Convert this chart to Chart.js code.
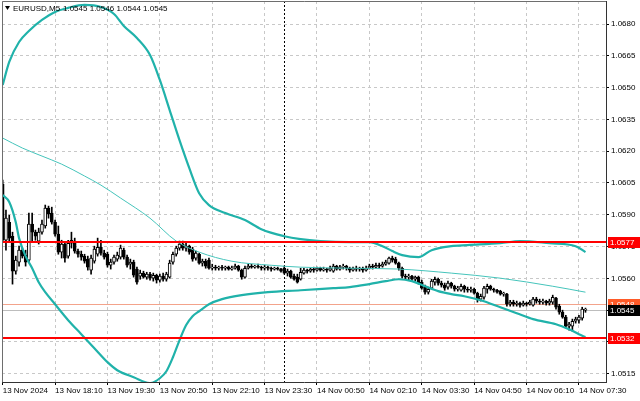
<!DOCTYPE html>
<html>
<head>
<meta charset="utf-8">
<script src="https://cdn.jsdelivr.net/npm/chart.js@4.4.1/dist/chart.umd.min.js"></script>
<style>
  html, body { margin: 0; padding: 0; background: #fff; }
  canvas { display: block; }
</style>
</head>
<body>
<canvas id="chart" width="640" height="401"></canvas>
<script>
// EURUSD M5, 13 Nov 16:50 .. 14 Nov 07:40 (one entry per bar)
const opens = [
  1.06045, 1.05780, 1.05865, 1.05799, 1.05634, 1.05677, 1.05733, 1.05710, 1.05686, 1.05856,
  1.05818, 1.05776, 1.05818, 1.05847, 1.05932, 1.05908, 1.05865, 1.05809, 1.05724, 1.05762,
  1.05705, 1.05766, 1.05776, 1.05729, 1.05714, 1.05705, 1.05691, 1.05639, 1.05681, 1.05714,
  1.05747, 1.05719, 1.05714, 1.05662, 1.05677, 1.05691, 1.05700, 1.05733, 1.05700, 1.05667,
  1.05677, 1.05644, 1.05611, 1.05625, 1.05606, 1.05620, 1.05601, 1.05615, 1.05592, 1.05611,
  1.05596, 1.05606, 1.05677, 1.05714, 1.05743, 1.05762, 1.05743, 1.05752, 1.05738, 1.05696,
  1.05714, 1.05672, 1.05681, 1.05686, 1.05648, 1.05653, 1.05648, 1.05653, 1.05648, 1.05653,
  1.05644, 1.05648, 1.05658, 1.05639, 1.05606, 1.05648, 1.05658, 1.05653, 1.05658, 1.05653,
  1.05648, 1.05653, 1.05648, 1.05644, 1.05648, 1.05644, 1.05648, 1.05625, 1.05634, 1.05611,
  1.05606, 1.05596, 1.05625, 1.05639, 1.05634, 1.05644, 1.05639, 1.05648, 1.05639, 1.05644,
  1.05639, 1.05634, 1.05658, 1.05644, 1.05653, 1.05658, 1.05648, 1.05639, 1.05648, 1.05644,
  1.05648, 1.05639, 1.05648, 1.05658, 1.05653, 1.05662, 1.05658, 1.05667, 1.05672, 1.05696,
  1.05691, 1.05672, 1.05648, 1.05611, 1.05606, 1.05611, 1.05596, 1.05606, 1.05582, 1.05559,
  1.05535, 1.05554, 1.05582, 1.05596, 1.05578, 1.05568, 1.05559, 1.05578, 1.05563, 1.05549,
  1.05544, 1.05563, 1.05549, 1.05544, 1.05549, 1.05530, 1.05502, 1.05511, 1.05549, 1.05563,
  1.05549, 1.05544, 1.05540, 1.05526, 1.05526, 1.05478, 1.05488, 1.05478, 1.05483, 1.05474,
  1.05483, 1.05478, 1.05474, 1.05502, 1.05493, 1.05488, 1.05493, 1.05483, 1.05488, 1.05507,
  1.05469, 1.05441, 1.05417, 1.05375, 1.05375, 1.05398, 1.05403, 1.05412, 1.05450
];
const highs = [
  1.06064, 1.05922, 1.05898, 1.05818, 1.05705, 1.05752, 1.05743, 1.05733, 1.05908, 1.05908,
  1.05828, 1.05837, 1.05875, 1.05946, 1.05941, 1.05936, 1.05875, 1.05847, 1.05780, 1.05771,
  1.05780, 1.05818, 1.05790, 1.05738, 1.05729, 1.05714, 1.05705, 1.05710, 1.05752, 1.05790,
  1.05780, 1.05733, 1.05724, 1.05691, 1.05710, 1.05724, 1.05757, 1.05743, 1.05710, 1.05691,
  1.05686, 1.05653, 1.05639, 1.05634, 1.05629, 1.05629, 1.05625, 1.05620, 1.05620, 1.05625,
  1.05629, 1.05686, 1.05724, 1.05752, 1.05776, 1.05776, 1.05766, 1.05757, 1.05747, 1.05729,
  1.05719, 1.05691, 1.05691, 1.05696, 1.05667, 1.05662, 1.05658, 1.05662, 1.05658, 1.05658,
  1.05658, 1.05667, 1.05662, 1.05644, 1.05658, 1.05667, 1.05667, 1.05662, 1.05667, 1.05658,
  1.05662, 1.05658, 1.05653, 1.05653, 1.05653, 1.05648, 1.05658, 1.05644, 1.05639, 1.05620,
  1.05620, 1.05648, 1.05648, 1.05644, 1.05648, 1.05653, 1.05653, 1.05653, 1.05653, 1.05648,
  1.05658, 1.05667, 1.05662, 1.05662, 1.05667, 1.05662, 1.05653, 1.05653, 1.05658, 1.05653,
  1.05653, 1.05658, 1.05667, 1.05667, 1.05672, 1.05672, 1.05677, 1.05686, 1.05700, 1.05705,
  1.05700, 1.05677, 1.05653, 1.05620, 1.05620, 1.05615, 1.05611, 1.05611, 1.05592, 1.05568,
  1.05559, 1.05596, 1.05606, 1.05601, 1.05587, 1.05578, 1.05587, 1.05582, 1.05568, 1.05563,
  1.05573, 1.05568, 1.05559, 1.05559, 1.05554, 1.05535, 1.05526, 1.05563, 1.05573, 1.05568,
  1.05554, 1.05549, 1.05544, 1.05535, 1.05530, 1.05497, 1.05497, 1.05493, 1.05488, 1.05493,
  1.05488, 1.05497, 1.05511, 1.05511, 1.05502, 1.05502, 1.05497, 1.05502, 1.05521, 1.05511,
  1.05478, 1.05450, 1.05426, 1.05393, 1.05408, 1.05417, 1.05426, 1.05464, 1.05460
];
const lows = [
  1.05771, 1.05733, 1.05771, 1.05573, 1.05620, 1.05658, 1.05696, 1.05658, 1.05677, 1.05771,
  1.05780, 1.05762, 1.05809, 1.05837, 1.05884, 1.05856, 1.05799, 1.05714, 1.05696, 1.05677,
  1.05696, 1.05743, 1.05719, 1.05700, 1.05686, 1.05672, 1.05639, 1.05620, 1.05672, 1.05705,
  1.05710, 1.05691, 1.05653, 1.05644, 1.05667, 1.05681, 1.05691, 1.05691, 1.05653, 1.05644,
  1.05606, 1.05573, 1.05596, 1.05601, 1.05596, 1.05592, 1.05587, 1.05578, 1.05582, 1.05587,
  1.05587, 1.05601, 1.05667, 1.05705, 1.05733, 1.05733, 1.05729, 1.05714, 1.05681, 1.05686,
  1.05667, 1.05658, 1.05648, 1.05644, 1.05639, 1.05639, 1.05639, 1.05639, 1.05639, 1.05639,
  1.05639, 1.05644, 1.05634, 1.05596, 1.05601, 1.05644, 1.05648, 1.05648, 1.05648, 1.05639,
  1.05639, 1.05639, 1.05634, 1.05639, 1.05639, 1.05629, 1.05620, 1.05611, 1.05601, 1.05592,
  1.05578, 1.05592, 1.05620, 1.05625, 1.05629, 1.05629, 1.05634, 1.05634, 1.05634, 1.05629,
  1.05634, 1.05629, 1.05639, 1.05639, 1.05644, 1.05639, 1.05629, 1.05634, 1.05634, 1.05634,
  1.05629, 1.05634, 1.05644, 1.05644, 1.05648, 1.05648, 1.05653, 1.05662, 1.05667, 1.05677,
  1.05667, 1.05639, 1.05601, 1.05596, 1.05592, 1.05587, 1.05587, 1.05573, 1.05549, 1.05526,
  1.05526, 1.05549, 1.05568, 1.05568, 1.05559, 1.05544, 1.05549, 1.05554, 1.05540, 1.05540,
  1.05540, 1.05535, 1.05535, 1.05535, 1.05526, 1.05488, 1.05493, 1.05502, 1.05530, 1.05544,
  1.05535, 1.05530, 1.05521, 1.05516, 1.05469, 1.05469, 1.05469, 1.05469, 1.05464, 1.05469,
  1.05469, 1.05474, 1.05469, 1.05483, 1.05478, 1.05478, 1.05474, 1.05474, 1.05478, 1.05455,
  1.05431, 1.05412, 1.05365, 1.05356, 1.05351, 1.05389, 1.05389, 1.05403, 1.05440
];
const closes = [
  1.05780, 1.05884, 1.05790, 1.05634, 1.05686, 1.05733, 1.05705, 1.05677, 1.05856, 1.05818,
  1.05799, 1.05818, 1.05856, 1.05932, 1.05903, 1.05865, 1.05809, 1.05724, 1.05762, 1.05696,
  1.05766, 1.05780, 1.05729, 1.05714, 1.05700, 1.05681, 1.05653, 1.05696, 1.05738, 1.05747,
  1.05719, 1.05700, 1.05662, 1.05677, 1.05700, 1.05710, 1.05743, 1.05700, 1.05662, 1.05677,
  1.05615, 1.05582, 1.05625, 1.05606, 1.05620, 1.05601, 1.05615, 1.05592, 1.05611, 1.05596,
  1.05620, 1.05672, 1.05714, 1.05743, 1.05762, 1.05743, 1.05752, 1.05724, 1.05691, 1.05719,
  1.05672, 1.05681, 1.05658, 1.05648, 1.05653, 1.05648, 1.05653, 1.05648, 1.05653, 1.05644,
  1.05648, 1.05658, 1.05639, 1.05606, 1.05648, 1.05658, 1.05653, 1.05658, 1.05653, 1.05648,
  1.05653, 1.05648, 1.05644, 1.05648, 1.05644, 1.05634, 1.05625, 1.05634, 1.05606, 1.05596,
  1.05582, 1.05629, 1.05639, 1.05634, 1.05644, 1.05639, 1.05648, 1.05639, 1.05644, 1.05639,
  1.05648, 1.05658, 1.05644, 1.05653, 1.05658, 1.05648, 1.05639, 1.05648, 1.05644, 1.05648,
  1.05639, 1.05648, 1.05658, 1.05653, 1.05662, 1.05658, 1.05667, 1.05677, 1.05696, 1.05686,
  1.05672, 1.05648, 1.05611, 1.05606, 1.05611, 1.05596, 1.05606, 1.05578, 1.05554, 1.05535,
  1.05549, 1.05587, 1.05596, 1.05578, 1.05568, 1.05554, 1.05578, 1.05563, 1.05549, 1.05554,
  1.05563, 1.05549, 1.05544, 1.05549, 1.05530, 1.05502, 1.05516, 1.05554, 1.05563, 1.05549,
  1.05544, 1.05535, 1.05526, 1.05530, 1.05478, 1.05488, 1.05478, 1.05483, 1.05474, 1.05483,
  1.05478, 1.05488, 1.05502, 1.05493, 1.05488, 1.05493, 1.05483, 1.05493, 1.05511, 1.05464,
  1.05441, 1.05417, 1.05375, 1.05384, 1.05398, 1.05408, 1.05417, 1.05455, 1.05450
];

// Bollinger bands and moving average, sampled at bar indices
const upperIdx  = [0, 2, 5, 8, 12, 16, 20, 25, 30, 34, 37, 41, 45, 48, 51, 54, 57, 60, 63, 68,
                   74, 79, 86, 91, 97, 106, 112, 116, 119, 122, 127, 131, 137, 142, 152, 158, 167, 175, 178];
const upperBand = [1.06512, 1.06621, 1.06715, 1.06767, 1.06819, 1.06857, 1.06876, 1.06890, 1.06880, 1.06847,
                   1.06791, 1.06734, 1.06654, 1.06536, 1.06394, 1.06252, 1.06120, 1.06002, 1.05946, 1.05908,
                   1.05875, 1.05832, 1.05799, 1.05785, 1.05776, 1.05771, 1.05771, 1.05752, 1.05729, 1.05710,
                   1.05700, 1.05733, 1.05752, 1.05757, 1.05766, 1.05776, 1.05766, 1.05752, 1.05724];
const lowerIdx  = [0, 2, 4, 5, 7, 9, 11, 13, 16, 20, 24, 28, 32, 35, 40, 45, 48, 50, 52, 54,
                   56, 58, 60, 63, 67, 73, 81, 91, 101, 106, 112, 117, 121, 125, 129, 133, 137, 141, 146,
                   152, 157, 162, 169, 173, 176, 178];
const lowerBand = [1.05993, 1.05960, 1.05865, 1.05790, 1.05705, 1.05648, 1.05582, 1.05535, 1.05478, 1.05403,
                   1.05337, 1.05271, 1.05205, 1.05167, 1.05134, 1.05106, 1.05129, 1.05162, 1.05228, 1.05308,
                   1.05379, 1.05422, 1.05445, 1.05478, 1.05502, 1.05521, 1.05535, 1.05544, 1.05554, 1.05559,
                   1.05573, 1.05587, 1.05596, 1.05587, 1.05563, 1.05540, 1.05526, 1.05516, 1.05497,
                   1.05464, 1.05436, 1.05408, 1.05384, 1.05360, 1.05337, 1.05323];
const maIdx  = [0, 6, 12, 18, 25, 30, 36, 45, 53, 60, 70, 82, 91, 106, 121, 137, 152, 168, 178];
const maLine = [1.06262, 1.06215, 1.06177, 1.06139, 1.06083, 1.06040, 1.05979, 1.05884, 1.05776, 1.05724,
                1.05681, 1.05662, 1.05653, 1.05648, 1.05644, 1.05625, 1.05601, 1.05563, 1.05535];

// axes
const timeIdx = [0, 16, 32, 48, 64, 80, 96, 112, 128, 144, 160, 176];
const timeLabels = ['13 Nov 2024', '13 Nov 18:10', '13 Nov 19:30', '13 Nov 20:50', '13 Nov 22:10', '13 Nov 23:30',
                    '14 Nov 00:50', '14 Nov 02:10', '14 Nov 03:30', '14 Nov 04:50', '14 Nov 06:10', '14 Nov 07:30'];
const priceTicks = [1.0515, 1.0530, 1.0545, 1.0560, 1.0575, 1.0590, 1.0605, 1.0620, 1.0635, 1.0650, 1.0665, 1.0680];
const dayBreakIdx = 86; // 14 Nov 00:00

// horizontal levels
const levels = [1.0577, 1.0532];
const askPrice = 1.0548;
const bidPrice = 1.0545;
const header = { symbol: 'EURUSD,M5', ohlc: '1.0545 1.0546 1.0544 1.0545' };

const teal = '#20b2aa';
const barIdx = closes.map((_, i) => i);

Chart.defaults.font.family = "'Liberation Sans', Arial, sans-serif";
Chart.defaults.font.size = 8;
Chart.defaults.color = '#000';

const overlay = {
    id: 'overlay',
    beforeDatasetsDraw(chart) {
        const {ctx, chartArea: a, scales: {x, y}} = chart;
        ctx.save();
        // bid / ask lines
        ctx.lineWidth = 1;
        ctx.strokeStyle = '#f3a38b';
        let py = Math.round(y.getPixelForValue(askPrice)) + 0.5;
        ctx.beginPath(); ctx.moveTo(a.left, py); ctx.lineTo(a.right, py); ctx.stroke();
        ctx.strokeStyle = '#bdbdbd';
        py = Math.round(y.getPixelForValue(bidPrice)) + 0.5;
        ctx.beginPath(); ctx.moveTo(a.left, py); ctx.lineTo(a.right, py); ctx.stroke();
        // period separator
        const px = Math.round(x.getPixelForValue(dayBreakIdx)) + 0.5;
        ctx.strokeStyle = '#000';
        ctx.setLineDash([2, 2]);
        ctx.beginPath(); ctx.moveTo(px, a.top); ctx.lineTo(px, a.bottom); ctx.stroke();
        ctx.restore();
    },
    afterDatasetsDraw(chart) {
        const {ctx, chartArea: a, scales: {y}} = chart;
        ctx.save();
        ctx.strokeStyle = '#ff0000';
        ctx.lineWidth = 2;
        levels.forEach(v => {
            const py = Math.round(y.getPixelForValue(v));
            ctx.beginPath(); ctx.moveTo(a.left, py); ctx.lineTo(a.right, py); ctx.stroke();
        });
        // frame
        ctx.lineWidth = 1;
        ctx.strokeStyle = '#6e6e6e';
        ctx.beginPath();
        ctx.moveTo(a.left + 0.5, a.bottom); ctx.lineTo(a.left + 0.5, a.top + 0.5); ctx.lineTo(a.right, a.top + 0.5);
        ctx.stroke();
        ctx.restore();
    },
    afterDraw(chart) {
        const {ctx, chartArea: a, scales: {y}} = chart;
        ctx.save();
        ctx.font = "8px 'Liberation Sans', Arial, sans-serif";
        ctx.textBaseline = 'middle';
        const tags = [
            {v: levels[0], bg: '#ff0000'},
            {v: levels[1], bg: '#ff0000'},
            {v: askPrice, bg: '#ff5a28'},
            {v: bidPrice, bg: '#000000'}
        ];
        tags.forEach(t => {
            const py = Math.round(y.getPixelForValue(t.v));
            ctx.fillStyle = t.bg;
            ctx.fillRect(a.right + 2, py - 5, 33, 11);
            ctx.fillStyle = '#fff';
            ctx.fillText(t.v.toFixed(4), a.right + 4, py + 0.5);
        });
        // header
        ctx.fillStyle = '#000';
        ctx.beginPath(); ctx.moveTo(5, 6); ctx.lineTo(10, 6); ctx.lineTo(7.5, 10); ctx.closePath(); ctx.fill();
        ctx.fillText(header.symbol, 13, 8.5);
        ctx.fillText(header.ohlc, 63, 8.5);
        ctx.restore();
    }
};

new Chart(document.getElementById('chart'), {
    type: 'bar',
    data: {
        datasets: [
            {
                label: 'wick',
                data: barIdx.map(i => ({x: i, y: [lows[i], highs[i]]})),
                backgroundColor: '#000',
                barThickness: 1,
                grouped: false,
                order: 3
            },
            {
                label: 'body',
                data: barIdx.map(i => ({x: i, y: [opens[i], closes[i]]})),
                backgroundColor: c => (c.raw && c.raw.y[1] >= c.raw.y[0]) ? '#fff' : '#000',
                borderColor: '#000',
                borderWidth: 1,
                borderSkipped: false,
                barThickness: 3,
                minBarLength: 1,
                grouped: false,
                order: 2
            },
            {
                type: 'line', label: 'upper',
                data: upperIdx.map((i, k) => ({x: i, y: upperBand[k]})),
                borderColor: teal, borderWidth: 2.2, pointRadius: 0,
                cubicInterpolationMode: 'monotone', order: 1
            },
            {
                type: 'line', label: 'lower',
                data: lowerIdx.map((i, k) => ({x: i, y: lowerBand[k]})),
                borderColor: teal, borderWidth: 2.2, pointRadius: 0,
                cubicInterpolationMode: 'monotone', order: 1
            },
            {
                type: 'line', label: 'ma',
                data: maIdx.map((i, k) => ({x: i, y: maLine[k]})),
                borderColor: '#45c4bb', borderWidth: 1, pointRadius: 0,
                cubicInterpolationMode: 'monotone', order: 1
            }
        ]
    },
    options: {
        responsive: false,
        animation: false,
        events: [],
        layout: { padding: { left: 2, top: 1, right: 0, bottom: 0 } },
        plugins: { legend: { display: false }, tooltip: { enabled: false } },
        scales: {
            x: {
                type: 'linear',
                offset: false,
                min: -0.21,
                max: 184.27,
                afterBuildTicks: s => { s.ticks = timeIdx.map(v => ({value: v})); },
                afterFit: s => { s.height = 19; s.paddingLeft = 0; s.paddingRight = 0; },
                ticks: {
                    autoSkip: false,
                    maxRotation: 0,
                    align: 'start',
                    padding: 1,
                    callback: (v) => timeLabels[timeIdx.indexOf(v)]
                },
                grid: { offset: false, color: '#c8c8c8', tickColor: '#000', tickLength: 3, tickBorderDash: [] },
                border: { color: '#333', width: 1, dash: [3, 3] }
            },
            y: {
                type: 'linear',
                position: 'right',
                min: 1.051113,
                max: 1.069085,
                afterBuildTicks: s => { s.ticks = priceTicks.map(v => ({value: v})); },
                afterFit: s => { s.width = 34; s.paddingTop = 0; s.paddingBottom = 0; },
                ticks: { padding: 2, callback: v => v.toFixed(4) },
                grid: { color: '#c8c8c8', tickColor: '#000', tickLength: 3, tickBorderDash: [] },
                border: { color: '#333', width: 1, dash: [3, 3] }
            }
        }
    },
    plugins: [overlay]
});
</script>
</body>
</html>
